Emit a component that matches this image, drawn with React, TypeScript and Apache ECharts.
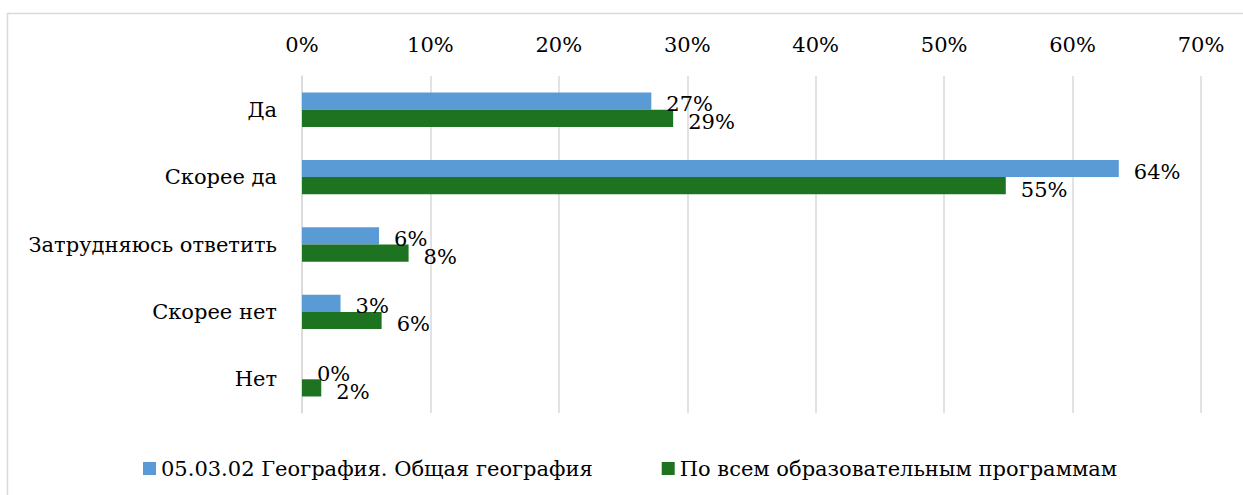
import React, { useEffect, useRef } from "react";
import * as echarts from "echarts";

const categories = ["Да", "Скорее да", "Затрудняюсь ответить", "Скорее нет", "Нет"];
const seriesNames = ["05.03.02 География. Общая география", "По всем образовательным программам"];
const geographyValues = [0.272, 0.636, 0.06, 0.03, 0.0];
const allProgramsValues = [0.289, 0.548, 0.083, 0.062, 0.015];
const xTicks = [0, 0.1, 0.2, 0.3, 0.4, 0.5, 0.6, 0.7];

const FONT = "DejaVu Serif";
const FS = 21;

export default function App() {
  const ref = useRef<HTMLDivElement>(null);
  useEffect(() => {
    if (!ref.current) return;
    const chart = echarts.init(ref.current, undefined, { renderer: "svg" });
    const labelCfg = (dy: number) => ({
      show: true,
      position: "right",
      distance: 15,
      offset: [0, dy],
      color: "#000",
      fontFamily: FONT,
      fontSize: FS,
      formatter: (p: any) => Math.round(p.value * 100) + "%",
    });
    chart.setOption({
      animation: false,
      backgroundColor: "#fff",
      graphic: [
        {
          type: "rect",
          shape: { x: 7.5, y: 13.5, width: 1400, height: 700 },
          style: { fill: "none", stroke: "#d9d9d9", lineWidth: 1.5 },
          silent: true,
        },
      ],
      grid: { left: 302, right: 42, top: 76, bottom: 82, containLabel: false },
      xAxis: {
        type: "value",
        position: "top",
        min: xTicks[0],
        max: xTicks[xTicks.length - 1],
        interval: 0.1,
        axisLine: { show: false },
        axisTick: { show: false },
        axisLabel: {
          color: "#000",
          fontFamily: FONT,
          fontSize: FS,
          margin: 21,
          formatter: (v: number) => Math.round(v * 100) + "%",
        },
        splitLine: { show: true, lineStyle: { color: "#d9d9d9", width: 1.5 } },
      },
      yAxis: {
        type: "category",
        inverse: true,
        data: categories,
        axisLine: { show: true, lineStyle: { color: "#d9d9d9", width: 1.5 } },
        axisTick: { show: false },
        axisLabel: { color: "#000", fontFamily: FONT, fontSize: FS, margin: 25 },
      },
      legend: {
        left: 138,
        top: 453,
        icon: "rect",
        itemWidth: 13,
        itemHeight: 13,
        itemGap: 69,
        textStyle: { color: "#000", fontFamily: FONT, fontSize: FS },
        data: seriesNames,
      },
      series: [
        {
          name: seriesNames[0],
          type: "bar",
          data: geographyValues,
          barGap: "0%",
          barCategoryGap: "49%",
          itemStyle: { color: "#5B9BD5" },
          label: labelCfg(3),
        },
        {
          name: seriesNames[1],
          type: "bar",
          data: allProgramsValues,
          itemStyle: { color: "#1E7321" },
          label: labelCfg(4),
        },
      ],
    });
    return () => chart.dispose();
  }, []);
  return (
    <div
      ref={ref}
      style={{ position: "fixed", left: 0, top: 0, width: 1243, height: 495, background: "#fff" }}
    />
  );
}
